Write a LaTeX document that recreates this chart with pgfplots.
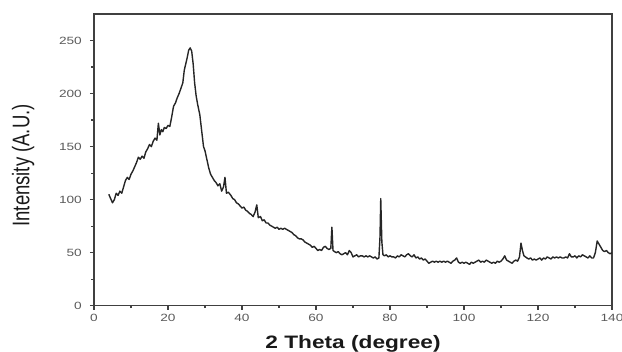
\documentclass[border=0pt]{standalone}
\usepackage{pgfplots}
\pgfplotsset{compat=1.18}
\usepackage{fontspec}
\setmainfont{Liberation Sans}
\begin{document}
\begin{tikzpicture}
\useasboundingbox (-94pt,-46.3pt) rectangle (528pt,305.7pt);
\begin{axis}[
  at={(0pt,0pt)}, anchor=south west,
  scale only axis, width=518pt, height=291.7pt,
  xmin=0, xmax=140, ymin=0, ymax=275,
  xtick={0,20,...,140}, ytick={0,50,...,250},
  minor xtick={10,30,...,130}, minor ytick={25,75,...,225},
  xtick pos=bottom, ytick pos=left, tick align=outside,
  major tick length=4pt, minor tick length=2.5pt,
  every tick/.style={black!75, line width=1.2pt},
  axis line style={black!75, line width=1.4pt},
  /pgf/number format/assume math mode=true,
  xticklabel={\scalebox{1.3}[1]{\pgfmathprintnumber{\tick}}},
  yticklabel={\scalebox{1.3}[1]{\pgfmathprintnumber{\tick}}},
  ticklabel style={font=\fontsize{10.5pt}{12pt}\selectfont, text=black!65},
  yticklabel style={inner sep=0pt, anchor=east, xshift=-8pt},
  xticklabel style={inner sep=0pt, anchor=north, yshift=-4pt},
  xlabel={\scalebox{1.26}[1]{\bfseries 2 Theta (degree)}},
  xlabel style={at={(axis description cs:0.5,-0.148)}, anchor=base, inner sep=0pt, font=\fontsize{18pt}{20pt}\selectfont, text=black!90},
  ylabel={\scalebox{1}[1.3]{Intensity (A.U.)}},
  ylabel style={at={(axis description cs:-0.137,0.481)}, anchor=center, inner sep=0pt, font=\fontsize{18.5pt}{20pt}\selectfont, text=black!90},
]
\addplot[black!85, line width=1.4pt, line join=round] coordinates {
(4.0,105) (4.5,101) (5.0,97) (5.5,100) (6.0,106) (6.5,104) (7.0,108) (7.5,106) (8.0,112) (8.5,118)
(9.0,121) (9.5,119) (10.0,124) (10.5,127) (11.0,131) (11.5,135) (12.0,140) (12.5,138) (13.0,141) (13.5,139)
(14.0,145) (14.5,148) (15.0,152) (15.5,150) (16.0,155) (16.5,158) (17.0,156) (17.4,172) (17.8,161) (18.2,166)
(18.6,164) (19.0,168) (19.5,167) (20.0,170) (20.5,169) (21.0,178) (21.5,188) (22.0,191) (22.5,196) (23.0,200)
(23.5,205) (24.0,210) (24.4,222) (24.8,228) (25.2,234) (25.6,241) (26.0,243) (26.4,240) (26.8,228) (27.2,210)
(27.6,198) (28.0,190) (28.6,180) (29.2,162) (29.6,150) (30.0,146) (30.5,138) (31.0,130) (31.5,124) (32.0,121)
(32.5,118) (33.0,116) (33.5,113) (34.0,115) (34.5,108) (35.0,112) (35.4,121) (35.8,106) (36.3,107) (37.0,104)
(37.5,101) (38.0,100) (38.5,97) (39.0,96) (39.5,94) (40.0,92) (40.5,93) (41.0,90) (41.5,89) (42.0,87)
(42.5,86) (43.0,84) (43.5,88) (44.0,95) (44.4,83) (45.0,84) (45.5,80) (46.0,81) (46.5,78) (47.0,78)
(47.5,76) (48.0,75) (48.5,74) (49.0,73) (49.5,74) (50.0,72) (50.5,73) (51.0,72) (51.5,73) (52.0,72)
(52.5,71) (53.0,70) (53.5,69) (54.0,67) (54.5,66) (55.0,64) (55.5,63) (56.0,63) (56.5,62) (57.0,60)
(57.5,59) (58.0,58) (58.5,57) (59.0,55) (59.5,56) (60.0,54) (60.5,52) (61.0,53) (61.5,52) (62.0,55)
(62.5,56) (63.0,54) (63.5,53) (64.0,54) (64.3,74) (64.6,52) (65.0,51) (65.5,50) (66.0,51) (66.5,49)
(67.0,48) (67.5,49) (68.0,50) (68.5,48) (69.0,52) (69.5,50) (70.0,46) (70.5,47) (71.0,48) (71.5,46)
(72.0,47) (72.5,47) (73.0,46) (73.5,47) (74.0,46) (74.5,47) (75.0,46) (75.5,45) (76.0,46) (76.5,44)
(77.0,45) (77.3,65) (77.5,101) (77.8,60) (78.1,48) (78.5,47) (79.0,48) (79.5,46) (80.0,47) (80.5,46)
(81.0,46) (81.5,45) (82.0,47) (82.5,46) (83.0,48) (83.5,47) (84.0,46) (84.5,48) (85.0,49) (85.5,47)
(86.0,46) (86.5,48) (87.0,45) (87.5,46) (88.0,44) (88.5,45) (89.0,43) (89.5,44) (90.0,42) (90.5,40)
(91.0,41) (91.5,42) (92.0,41) (92.5,42) (93.0,41) (93.5,42) (94.0,41) (94.5,42) (95.0,41) (95.5,42)
(96.0,41) (96.5,40) (97.0,42) (97.5,43) (98.0,45) (98.5,41) (99.0,40) (99.5,41) (100.0,40) (100.5,41)
(101.0,40) (101.5,39) (102.0,41) (102.5,40) (103.0,41) (103.5,42) (104.0,43) (104.5,41) (105.0,42) (105.5,41)
(106.0,43) (106.5,42) (107.0,41) (107.5,40) (108.0,41) (108.5,40) (109.0,42) (109.5,41) (110.0,42) (110.5,44)
(111.0,47) (111.5,43) (112.0,42) (112.5,41) (113.0,40) (113.5,42) (114.0,43) (114.5,42) (115.0,46) (115.4,59)
(115.8,52) (116.2,47) (116.6,46) (117.0,45) (117.5,44) (118.0,45) (118.5,43) (119.0,44) (119.5,43) (120.0,44)
(120.5,45) (121.0,43) (121.5,45) (122.0,44) (122.5,46) (123.0,45) (123.5,44) (124.0,46) (124.5,45) (125.0,46)
(125.5,45) (126.0,46) (126.5,45) (127.0,45) (127.5,46) (128.0,45) (128.5,49) (129.0,46) (129.5,46) (130.0,47)
(130.5,45) (131.0,47) (131.5,46) (132.0,48) (132.5,47) (133.0,46) (133.5,45) (134.0,47) (134.5,45) (135.0,45)
(135.5,50) (136.0,61) (136.5,58) (137.0,55) (137.5,52) (138.0,51) (138.5,52) (139.0,50) (139.5,49) (140.0,50)
};
\end{axis}
\end{tikzpicture}
\end{document}
